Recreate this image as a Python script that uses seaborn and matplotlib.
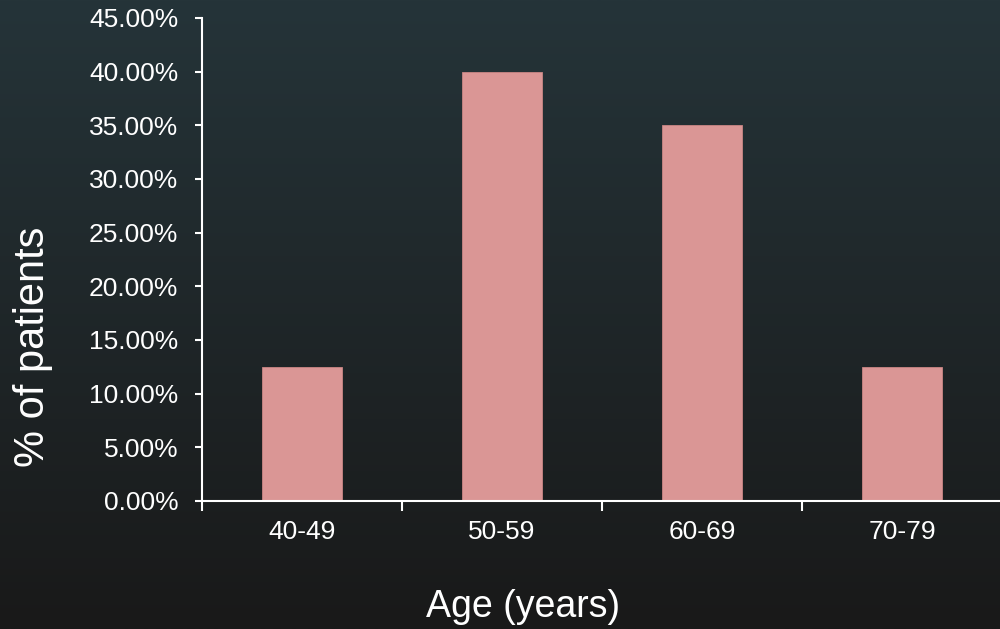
import numpy as np
import pandas as pd
import matplotlib
matplotlib.use("Agg")
import matplotlib.pyplot as plt
import seaborn as sns

age_groups = ["40-49", "50-59", "60-69", "70-79"]
patient_share = [12.5, 40.0, 35.0, 12.5]
y_ticks = [0, 5, 10, 15, 20, 25, 30, 35, 40, 45]

sns.set_style("dark", {"xtick.bottom": True, "ytick.left": True})
plt.rcParams["font.family"] = ["Liberation Sans", "DejaVu Sans"]

fig = plt.figure(figsize=(10, 6.29), dpi=100)

# vertical gradient backdrop
bg_ax = fig.add_axes([0, 0, 1, 1], zorder=0)
top = np.array([0x25, 0x34, 0x39]) / 255
bottom = np.array([0x19, 0x19, 0x19]) / 255
t = np.linspace(0, 1, 256)[:, None]
grad = top[None, :] * (1 - t) + bottom[None, :] * t
bg_ax.imshow(grad[:, None, :], aspect="auto", extent=[0, 1, 0, 1])
bg_ax.axis("off")

ax = fig.add_axes([0.202, 0.2035, 0.8, 0.7679], zorder=1)
ax.patch.set_alpha(0)

df = pd.DataFrame({"age": age_groups, "share": patient_share})
sns.barplot(data=df, x="age", y="share", color="#da9695", saturation=1,
            width=0.4, edgecolor="#c98584", linewidth=0.6, ax=ax)

ax.set_xlim(-0.5, len(age_groups) - 0.5)
ax.set_ylim(0, 45)
ax.set_yticks(y_ticks)
ax.set_yticklabels([f"{v:.2f}%" for v in y_ticks])

# category labels centred, tick marks at category boundaries
ax.set_xticks(range(len(age_groups)))
ax.set_xticklabels(age_groups)
ax.set_xticks(np.arange(-0.5, len(age_groups)), minor=True)
ax.tick_params(axis="x", which="major", bottom=True, length=0, pad=14,
               labelsize=19, colors="white")
ax.tick_params(axis="x", which="minor", bottom=True, length=7, width=1.5,
               color="white", direction="out")
ax.tick_params(axis="y", left=True, length=5, width=1.5, color="white",
               direction="out", pad=12, labelsize=19, labelcolor="white")
ax.grid(False)

for side in ["top", "right"]:
    ax.spines[side].set_visible(False)
for side in ["left", "bottom"]:
    ax.spines[side].set_visible(True)
    ax.spines[side].set_color("white")
    ax.spines[side].set_linewidth(1.5)

ax.set_xlabel("")
ax.set_ylabel("")
fig.text(0.523, 0.035, "Age (years)", color="white", fontsize=27,
         ha="center", va="center")
fig.text(0.033, 0.448, "% of patients", color="white", fontsize=30,
         ha="center", va="center", rotation=90)

fig.savefig("out.png", dpi=100)
